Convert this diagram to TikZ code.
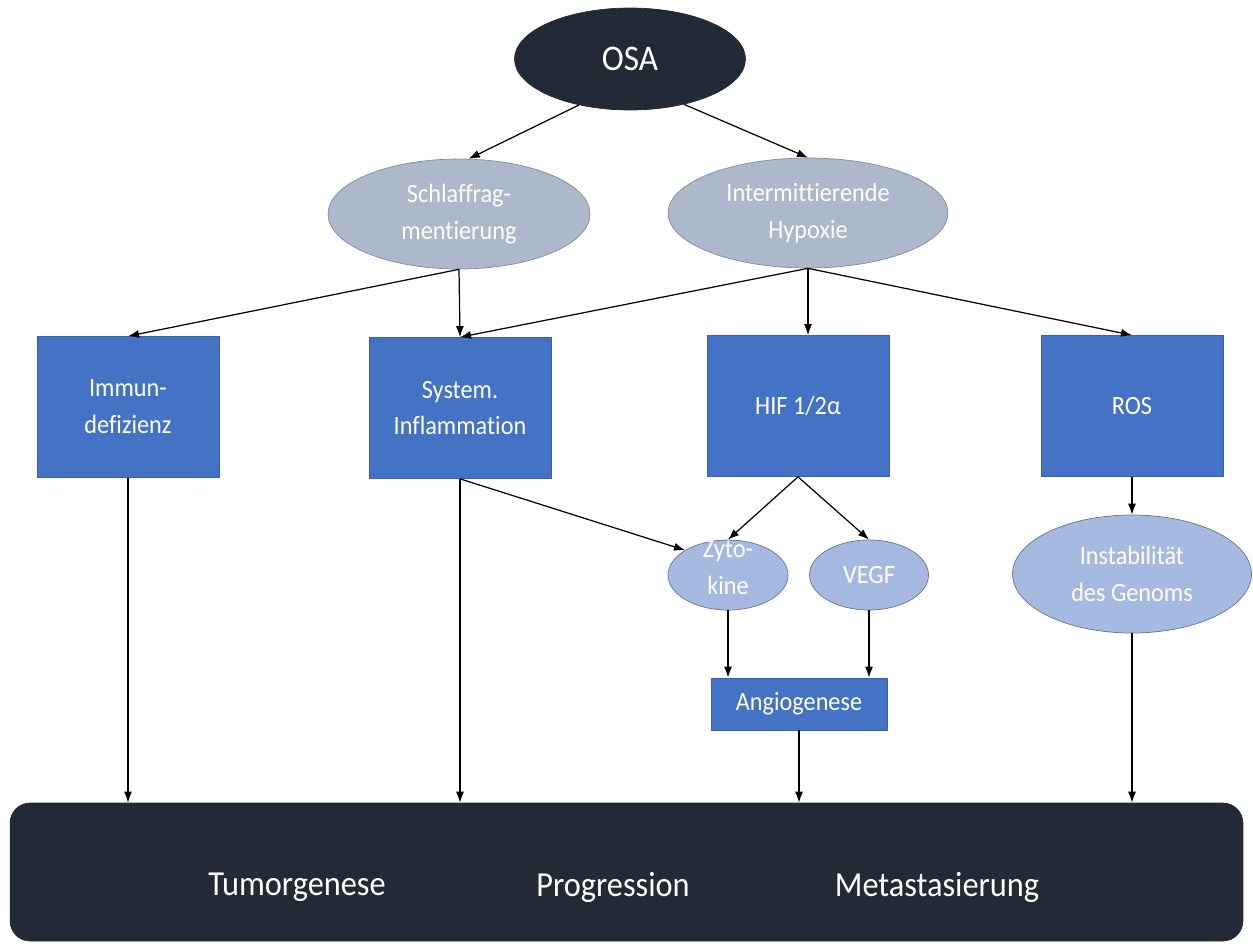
\documentclass[tikz,border=0pt]{standalone}
\usepackage{fontspec}
\setmainfont{Carlito}[FakeStretch=0.92, Ligatures=NoCommon]
\usepackage{xcolor}
\usetikzlibrary{shapes.geometric,arrows.meta}

\definecolor{nachtblau}{HTML}{222A35}
\definecolor{graublau}{HTML}{ADB9CA}
\definecolor{graurand}{HTML}{7F8DA3}
\definecolor{boxblau}{HTML}{4472C4}
\definecolor{boxrand}{HTML}{3A62AC}
\definecolor{hellblau}{HTML}{A6BAE1}
\definecolor{hellrand}{HTML}{66758F}

\begin{document}
\begin{tikzpicture}[x=0.02cm,y=-0.02cm,
    pfeil/.style={black, line width=0.7pt, -{Latex[length=2.2mm,width=1.6mm]}},
    wurzel/.style={ellipse, fill=nachtblau, draw=nachtblau, text=white, inner sep=0pt,
        minimum width=4.62cm, minimum height=2.04cm, font=\fontsize{20.5}{24}\selectfont},
    grauoval/.style={ellipse, fill=graublau, draw=graurand, text=white, inner sep=0pt,
        align=center, minimum height=2.2cm, font=\fontsize{15}{21}\selectfont},
    blaubox/.style={rectangle, fill=boxblau, draw=boxrand, text=white, align=center,
        minimum width=3.64cm, minimum height=2.82cm, font=\fontsize{15}{21}\selectfont},
    helloval/.style={ellipse, fill=hellblau, draw=hellrand, text=white, inner sep=0pt,
        align=center, font=\fontsize{15}{21}\selectfont},
    leistentext/.style={text=white, font=\fontsize{20}{24}\selectfont}]

    \useasboundingbox (0,0) rectangle (1253,943);

    %% oben
    \node[wurzel] (osa) at (630,59) {OSA};
    \node[grauoval, minimum width=5.24cm] (schlaf) at (459,214) {Schlaffrag-\\mentierung};
    \node[grauoval, minimum width=5.6cm] (hypox) at (808,213) {Intermittierende\\Hypoxie};

    \draw[pfeil] (osa.-138) -- (schlaf.80);
    \draw[pfeil] (osa.-40) -- (hypox.north);

    %% Mitte
    \node[blaubox] (immun) at (128,407) {Immun-\\defizienz};
    \node[blaubox] (inflam) at (460,408) {System.\\Inflammation};
    \node[blaubox] (hif) at (798,406) {HIF 1/2α};
    \node[blaubox] (ros) at (1132,406) {ROS};

    \draw[pfeil] (schlaf.south) -- (immun.north);
    \draw[pfeil] (schlaf.south) -- (inflam.north);
    \draw[pfeil] (hypox.south) -- (inflam.north);
    \draw[pfeil] (hypox.south) -- (hypox.south |- hif.north);
    \draw[pfeil] (hypox.south) -- (ros.north);

    %% unten
    \node[helloval, minimum width=2.4cm, minimum height=1.4cm] (zyto) at (728,575)
        {\smash{\begin{tabular}{@{}c@{}}Zyto-\\kine\end{tabular}}};
    \node[helloval, minimum width=2.38cm, minimum height=1.4cm] (vegf) at (869,575) {VEGF};
    \node[helloval, minimum width=4.78cm, minimum height=2.36cm] (genom) at (1132,574)
        {Instabilität\\des Genoms};
    \node[blaubox, minimum width=3.52cm, minimum height=1.04cm] (angio) at (799,704) {Angiogenese};

    \draw[pfeil] (inflam.south) -- (zyto.150);
    \draw[pfeil] (hif.south) -- (zyto.north);
    \draw[pfeil] (hif.south) -- (vegf.north);
    \draw[pfeil] (zyto.south) -- (zyto.south |- angio.north);
    \draw[pfeil] (vegf.south) -- (vegf.south |- angio.north);
    \draw[pfeil] (ros.south) -- (ros.south |- genom.north);

    %% Leiste
    \node[rectangle, rounded corners=0.4cm, fill=nachtblau, draw=nachtblau,
        minimum width=24.66cm, minimum height=2.76cm] (leiste) at (626.5,872) {};
    \node[leistentext] (tumor) at (297,887) {Tumorgenese};
    \node[leistentext] (progr) at (613,887) {Progression};
    \node[leistentext] (meta) at (937,887) {Metastasierung};

    \draw[pfeil] (immun.south) -- (immun.south |- leiste.north);
    \draw[pfeil] (inflam.south) -- (inflam.south |- leiste.north);
    \draw[pfeil] (angio.south) -- (angio.south |- leiste.north);
    \draw[pfeil] (genom.south) -- (genom.south |- leiste.north);

\end{tikzpicture}
\end{document}
